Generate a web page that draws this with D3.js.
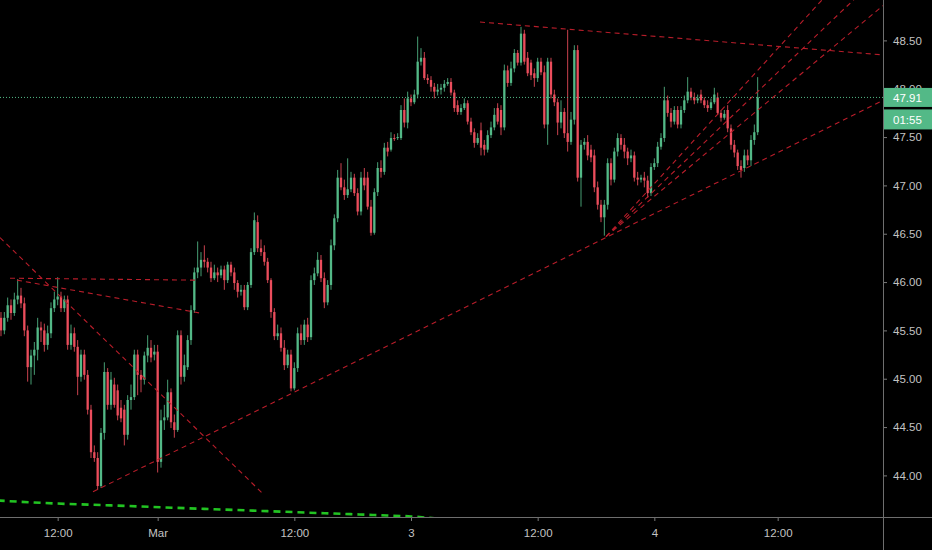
<!DOCTYPE html>
<html><head><meta charset="utf-8">
<script src="https://cdn.jsdelivr.net/npm/d3@7"></script>
<style>html,body{margin:0;padding:0;background:#000;}svg{display:block;}</style>
</head><body>
<svg id="chart" width="932" height="550"></svg>
<script>
// ---- data (bar index, price) ----
const opens = [
45.63,45.50,45.63,45.76,45.68,45.82,45.86,45.78,45.50,45.12,
45.24,45.30,45.53,45.50,45.35,45.47,45.73,45.82,45.85,45.73,
45.82,45.35,45.47,45.33,45.02,45.25,45.04,44.68,44.24,44.18,
43.89,44.44,45.07,44.73,44.94,44.88,44.70,44.68,44.42,44.78,
44.81,45.25,45.04,44.99,45.24,45.32,45.25,45.28,44.14,44.57,
44.60,44.86,44.55,44.47,45.45,45.02,45.12,45.40,45.71,46.10,
46.15,46.23,46.21,46.15,46.04,46.10,46.07,46.13,46.02,46.18,
46.10,45.99,45.90,45.92,45.74,45.97,46.31,46.62,46.35,46.31,
46.21,46.02,45.69,45.44,45.47,45.32,45.14,45.25,44.90,45.11,
45.47,45.40,45.56,45.43,46.02,46.09,46.23,46.04,45.79,45.97,
46.38,46.66,47.08,46.98,46.90,46.96,47.08,46.92,46.73,47.08,
47.08,46.78,46.51,46.93,47.18,47.14,47.39,47.37,47.49,47.49,
47.49,47.78,47.65,47.90,47.86,47.94,48.28,48.32,48.11,48.09,
48.02,47.97,47.99,48.01,48.05,48.07,47.96,47.83,47.76,47.80,
47.85,47.66,47.55,47.44,47.57,47.42,47.37,47.52,47.60,47.80,
47.78,47.60,48.19,48.06,48.21,48.37,48.27,48.57,48.32,48.27,
48.16,48.11,48.28,48.17,47.63,48.28,47.94,47.86,47.65,47.76,
47.54,47.45,47.68,48.40,47.08,47.42,47.45,47.37,47.31,46.98,
46.80,46.67,46.80,47.23,47.06,47.35,47.49,47.42,47.35,47.28,
47.31,47.08,47.06,47.08,47.05,46.92,47.19,47.23,47.40,47.49,
47.88,47.75,47.66,47.78,47.63,47.78,47.88,47.97,47.91,47.88,
47.94,47.88,47.83,47.80,47.86,47.91,47.75,47.70,47.78,47.59,
47.42,47.34,47.20,47.18,47.31,47.26,47.47,47.55];
const highs = [
45.69,45.69,45.84,45.82,45.89,46.03,45.94,45.84,45.55,45.30,
45.38,45.63,45.59,45.57,45.55,45.79,45.90,46.05,45.90,45.86,
45.86,45.56,45.53,45.40,45.30,45.30,45.09,44.73,44.31,44.24,
44.49,45.17,45.11,45.07,45.01,44.94,44.78,44.73,44.83,44.94,
45.30,45.30,45.09,45.28,45.45,45.40,45.35,45.35,44.68,44.73,
44.99,44.90,44.63,45.50,45.50,45.25,45.45,45.76,46.15,46.42,
46.31,46.38,46.25,46.21,46.18,46.15,46.17,46.17,46.21,46.21,
46.15,46.02,45.97,45.97,46.00,46.35,46.72,46.69,46.44,46.38,
46.25,46.04,45.73,45.56,45.53,45.40,45.30,45.30,45.17,45.53,
45.56,45.61,45.63,46.07,46.15,46.31,46.28,46.10,46.02,46.44,
46.70,47.16,47.23,47.06,47.28,47.14,47.12,46.97,47.14,47.18,
47.14,46.85,46.97,47.24,47.26,47.44,47.45,47.55,47.53,47.54,
47.83,47.90,47.97,47.94,47.99,48.54,48.42,48.38,48.15,48.13,
48.06,48.05,48.05,48.09,48.11,48.11,47.99,47.88,47.84,47.90,
47.88,47.70,47.59,47.54,47.65,47.47,47.57,47.66,47.80,47.85,
47.83,48.25,48.24,48.28,48.41,48.40,48.64,48.61,48.38,48.30,
48.21,48.32,48.32,48.24,48.32,48.32,47.99,47.90,47.88,47.80,
48.61,47.76,48.45,48.45,47.47,47.49,47.52,47.42,47.37,47.04,
46.85,46.85,47.28,47.28,47.39,47.54,47.53,47.49,47.39,47.37,
47.35,47.14,47.11,47.14,47.10,47.23,47.28,47.45,47.54,48.02,
47.93,47.80,47.82,47.82,47.82,47.93,48.12,48.01,47.96,47.94,
47.99,47.91,47.88,47.90,48.01,47.96,47.78,47.78,47.83,47.63,
47.47,47.37,47.26,47.37,47.37,47.52,47.63,48.12];
const lows = [
45.44,45.46,45.59,45.61,45.65,45.77,45.73,45.44,44.97,44.94,
45.04,45.19,45.38,45.28,45.30,45.42,45.69,45.76,45.69,45.69,
45.30,45.30,45.28,44.83,44.97,44.99,44.63,44.18,44.14,43.85,
43.87,44.37,44.68,44.68,44.70,44.57,44.55,44.31,44.37,44.68,
44.78,44.83,44.86,44.94,45.17,45.17,45.19,44.03,44.08,44.47,
44.57,44.49,44.39,44.45,44.94,44.97,45.09,45.35,45.68,46.04,
46.06,46.15,46.10,46.00,46.02,46.00,46.04,45.92,45.99,46.06,
45.92,45.84,45.86,45.71,45.71,45.94,46.28,46.31,46.27,46.17,
45.99,45.63,45.40,45.40,45.28,45.09,45.11,44.87,44.88,45.07,
45.35,45.35,45.38,45.40,45.97,46.06,46.00,45.73,45.76,45.92,
46.33,46.62,46.95,46.85,46.87,46.93,46.89,46.69,46.69,46.95,
46.75,46.48,46.49,46.89,47.08,47.11,47.30,47.35,47.46,47.47,
47.47,47.60,47.59,47.82,47.84,47.90,48.24,48.09,48.05,47.97,
47.90,47.93,47.94,47.97,48.03,47.93,47.76,47.73,47.73,47.78,
47.63,47.52,47.39,47.42,47.31,47.31,47.34,47.49,47.57,47.63,
47.52,47.57,48.02,48.03,48.17,48.24,48.24,48.25,48.13,48.09,
48.02,48.07,48.14,47.59,47.42,47.90,47.82,47.52,47.59,47.49,
47.35,47.42,47.63,47.04,46.78,47.37,47.26,47.24,46.93,46.75,
46.62,46.48,46.75,47.00,47.03,47.30,47.37,47.28,47.21,47.24,
47.04,47.00,47.03,46.98,46.87,46.89,47.16,47.19,47.37,47.45,
47.71,47.60,47.63,47.59,47.59,47.75,47.85,47.88,47.84,47.85,
47.85,47.80,47.76,47.78,47.84,47.73,47.66,47.68,47.55,47.37,
47.29,47.16,47.08,47.14,47.21,47.20,47.42,47.52];
const closes = [
45.50,45.63,45.76,45.68,45.82,45.86,45.78,45.50,45.12,45.24,
45.30,45.53,45.50,45.35,45.47,45.73,45.82,45.85,45.73,45.82,
45.35,45.47,45.33,45.02,45.25,45.04,44.68,44.24,44.18,43.89,
44.44,45.07,44.73,44.99,44.73,44.62,44.59,44.42,44.78,44.81,
45.25,45.04,44.99,45.24,45.32,45.22,45.28,44.14,44.57,44.60,
44.86,44.55,44.47,45.45,45.02,45.14,45.40,45.71,46.10,46.15,
46.23,46.21,46.15,46.04,46.10,46.07,46.13,46.02,46.18,46.10,
45.99,45.90,45.92,45.74,45.97,46.31,46.64,46.35,46.31,46.21,
46.02,45.69,45.44,45.47,45.32,45.14,45.25,44.90,45.11,45.47,
45.40,45.56,45.43,46.02,46.09,46.23,46.04,45.79,45.97,46.38,
46.66,47.08,46.98,46.90,46.96,47.08,46.92,46.73,47.08,47.00,
46.78,46.51,46.93,47.18,47.14,47.39,47.35,47.49,47.48,47.50,
47.78,47.65,47.90,47.86,47.94,48.28,48.32,48.11,48.09,48.02,
47.97,47.99,48.01,48.05,48.07,47.96,47.80,47.76,47.80,47.85,
47.66,47.55,47.44,47.49,47.39,47.37,47.52,47.60,47.73,47.66,
47.60,48.19,48.06,48.21,48.37,48.27,48.57,48.28,48.16,48.14,
48.11,48.28,48.17,47.63,48.28,47.94,47.86,47.65,47.76,47.54,
47.45,47.68,48.40,47.08,47.42,47.45,47.31,47.29,46.98,46.80,
46.67,46.80,47.23,47.06,47.35,47.49,47.42,47.35,47.28,47.31,
47.08,47.06,47.08,47.05,46.92,47.19,47.23,47.40,47.49,47.88,
47.75,47.66,47.78,47.63,47.78,47.88,47.97,47.91,47.88,47.90,
47.88,47.83,47.80,47.86,47.94,47.75,47.70,47.74,47.59,47.42,
47.34,47.20,47.16,47.31,47.26,47.47,47.55,47.91];

const priceTicks = [44.00,44.50,45.00,45.50,46.00,46.50,47.00,47.50,48.00,48.50];
const timeTickIndex = [17,47,88,123,161,196,233];
const timeTickLabels = ["12:00","Mar","12:00","3","12:00","4","12:00"];
const lastPrice = 47.91;
const countdown = "01:55";

// long moving average (green dashed) : bar index / price
const maIndex = [-1,16,33,48,64,80,96,112,123,135];
const maValues = [43.74,43.71,43.69,43.67,43.65,43.63,43.61,43.59,43.575,43.54];

// drawn trend lines: [startIndex, startPrice, endIndex, endPrice]
const trendLines = [
  [143.7,48.69,264.6,48.35],
  [27.6,43.83,264.6,47.88],
  [181.5,46.47,264.6,49.61],
  [181.5,46.47,264.6,49.21],
  [181.5,46.47,264.6,48.86],
  [2.7,46.04,58.2,46.02],
  [4.8,46.02,59.7,45.68],
  [-0.3,46.46,78.3,43.82]
];

// ---- layout ----
const W = 932, H = 550, plotRight = 883, plotBottom = 517;
const UP = "#53b987", DOWN = "#eb4d5c";
const svg = d3.select("#chart");
svg.append("rect").attr("width",W).attr("height",H).attr("fill","#000");

const x = d3.scaleLinear().domain([-0.3, 264.6]).range([0, plotRight]);
const y = d3.scaleLinear().domain([44, 48.5]).range([475.4, 40.4]);

svg.append("clipPath").attr("id","plot").append("rect")
  .attr("x",0).attr("y",0).attr("width",plotRight).attr("height",plotBottom);
const plot = svg.append("g").attr("clip-path","url(#plot)");

const bars = d3.range(closes.length).map(i => ({i, o:opens[i], h:highs[i], l:lows[i], c:closes[i]}));
const bw = 2.3;

// wicks
plot.append("g").selectAll("line").data(bars).join("line")
  .attr("x1", d => x(d.i)).attr("x2", d => x(d.i))
  .attr("y1", d => y(d.h)).attr("y2", d => y(d.l))
  .attr("stroke", d => d.c >= d.o ? UP : DOWN)
  .attr("stroke-width", 1).attr("stroke-opacity", 0.85);
// bodies
plot.append("g").selectAll("rect").data(bars).join("rect")
  .attr("x", d => x(d.i) - bw/2).attr("width", bw)
  .attr("y", d => y(Math.max(d.o,d.c)))
  .attr("height", d => Math.max(1, Math.abs(y(d.o) - y(d.c))))
  .attr("fill", d => d.c >= d.o ? UP : DOWN);

// moving average
plot.append("path")
  .datum(maIndex.map((d,k)=>[d,maValues[k]]))
  .attr("d", d3.line().x(d=>x(d[0])).y(d=>y(d[1])).curve(d3.curveMonotoneX))
  .attr("fill","none").attr("stroke","#22c322").attr("stroke-width",2.6)
  .attr("stroke-dasharray","7,5");

// trend lines
plot.append("g").selectAll("line").data(trendLines).join("line")
  .attr("x1", d => x(d[0])).attr("y1", d => y(d[1]))
  .attr("x2", d => x(d[2])).attr("y2", d => y(d[3]))
  .attr("stroke","#b81d2a").attr("stroke-width",1.1)
  .attr("stroke-dasharray","5,4");

// last price dotted line
plot.append("line")
  .attr("x1",0).attr("x2",plotRight)
  .attr("y1",y(lastPrice)).attr("y2",y(lastPrice))
  .attr("stroke",UP).attr("stroke-width",1).attr("stroke-dasharray","1,2");

// ---- axes ----
const font = "'Liberation Sans', Arial, sans-serif";
const yAxis = svg.append("g").attr("transform",`translate(${plotRight},0)`)
  .call(d3.axisRight(y).tickValues(priceTicks).tickFormat(d3.format(".2f")).tickSize(4).tickPadding(6));
yAxis.select(".domain").remove();
yAxis.selectAll(".tick line").attr("stroke","#7a7a7a");
yAxis.selectAll(".tick text").attr("fill","#c3c3c3").style("font-family",font).style("font-size","11.5px");

const xAxis = svg.append("g").attr("transform",`translate(0,${plotBottom})`)
  .call(d3.axisBottom(x).tickValues(timeTickIndex).tickFormat((d,k)=>timeTickLabels[k]).tickSize(4).tickPadding(8));
xAxis.select(".domain").remove();
xAxis.selectAll(".tick line").attr("stroke","#7a7a7a");
xAxis.selectAll(".tick text").attr("fill","#c3c3c3").style("font-family",font).style("font-size","11.5px");

svg.append("line").attr("x1",plotRight+0.5).attr("x2",plotRight+0.5).attr("y1",0).attr("y2",H)
  .attr("stroke","#6e6e6e").attr("stroke-width",1);
svg.append("line").attr("x1",0).attr("x2",W).attr("y1",plotBottom+0.5).attr("y2",plotBottom+0.5)
  .attr("stroke","#6e6e6e").attr("stroke-width",1);

// last price label + countdown
const ly = y(lastPrice);
svg.append("rect").attr("x",plotRight+1).attr("y",ly-9.5).attr("width",W-plotRight-1).attr("height",19).attr("fill",UP);
svg.append("text").attr("x",plotRight+10).attr("y",ly).attr("dy","0.36em").text(d3.format(".2f")(lastPrice))
  .attr("fill","#fff").style("font-family",font).style("font-size","11.5px");
svg.append("rect").attr("x",plotRight+1).attr("y",ly+12).attr("width",W-plotRight-1).attr("height",20).attr("fill",UP);
svg.append("text").attr("x",plotRight+10).attr("y",ly+22).attr("dy","0.36em").text(countdown)
  .attr("fill","#fff").style("font-family",font).style("font-size","11.5px");
</script>
</body></html>
